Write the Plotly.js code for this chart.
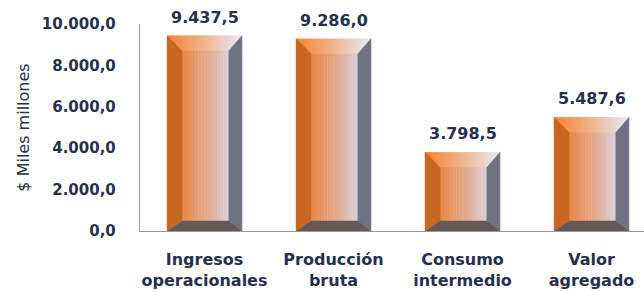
<!DOCTYPE html>
<html><head><meta charset="utf-8">
<script src="https://cdn.plot.ly/plotly-3.0.1.min.js"></script>
<style>html,body{margin:0;padding:0;background:#fff}</style>
</head><body><div id="chart" style="width:644px;height:292px"></div>
<script>
// ---- data ----
const categories = ["Ingresos<br>operacionales", "Producción<br>bruta", "Consumo<br>intermedio", "Valor<br>agregado"];
const values = [9437.5, 9286.0, 3798.5, 5487.6];
const valueLabels = ["9.437,5", "9.286,0", "3.798,5", "5.487,6"];
const yTickVals = [0, 2000, 4000, 6000, 8000, 10000];
const yTickText = ["0,0", "2.000,0", "4.000,0", "6.000,0", "8.000,0", "10.000,0"];

// ---- style constants ----
const HALF = 0.29, BL = 0.116, BR = 0.101, BT = 725, BB = 483;
const N = 24;
const TXT = "#27304f";
const FONT = "DejaVu Sans";

const xs = categories.map((_, i) => i);

function lerp(a, b, t) { return a.map((v, j) => Math.round(v + (b[j] - v) * t)); }
function grad(stops, t) {
  t = Math.max(0, Math.min(1, t));
  const n = stops.length - 1;
  const k = Math.min(n - 1, Math.floor(t * n));
  const c = lerp(stops[k], stops[k + 1], t * n - k);
  return "rgb(" + c.join(",") + ")";
}
const faceStops = [[232, 134, 70], [228, 168, 134], [216, 206, 220]];
const topStops = [[245, 130, 48], [240, 180, 140], [230, 236, 252]];

const traces = [];
const w = 2 * HALF / N;
for (let k = 0; k < N; k++) {
  const off = -HALF + k * w;
  const xc = off + w / 2;
  const tf = (xc - (-HALF + BL)) / ((HALF - BR) - (-HALF + BL));
  traces.push({
    type: "bar", x: xs, y: values, offset: off, width: w + 0.003,
    marker: {color: grad(faceStops, tf), line: {width: 0}},
    hoverinfo: "skip", showlegend: false
  });
}
for (let k = 0; k < N; k++) {
  const off = -HALF + k * w;
  const tt = (k + 0.5) / N;
  traces.push({
    type: "bar", x: xs, y: values.map(() => BT), base: values.map(v => v - BT),
    offset: off, width: w + 0.003,
    marker: {color: grad(topStops, tt), line: {width: 0}},
    hoverinfo: "skip", showlegend: false
  });
}

function poly(fn, color) {
  const px = [], py = [];
  values.forEach((v, i) => {
    fn(i, v).forEach(p => { px.push(p[0]); py.push(p[1]); });
    px.push(null); py.push(null);
  });
  return {type: "scatter", mode: "lines", x: px, y: py, fill: "toself",
    fillcolor: color, line: {color: color, width: 0.5},
    hoverinfo: "skip", showlegend: false};
}
// left bevel
traces.push(poly((i, v) => [[i - HALF, 0], [i - HALF, v], [i - HALF + BL, v - BT], [i - HALF + BL, BB]], "#c8671f"));
// right bevel
traces.push(poly((i, v) => [[i + HALF, 0], [i + HALF, v], [i + HALF - BR, v - BT], [i + HALF - BR, BB]], "#6f7381"));
// bottom bevel
traces.push(poly((i, v) => [[i - HALF, 0], [i + HALF, 0], [i + HALF - BR, BB], [i - HALF + BL, BB]], "#655958"));

const annotations = values.map((v, i) => ({
  x: i, y: v, text: valueLabels[i], showarrow: false, xanchor: "center", yanchor: "bottom",
  yshift: 7, font: {family: FONT, size: 16, color: TXT, weight: "bold"}
}));

const layout = {
  width: 644, height: 292,
  margin: {l: 140, r: 0, t: 24, b: 61},
  paper_bgcolor: "#fff", plot_bgcolor: "#fff",
  barmode: "overlay", showlegend: false, hovermode: false,
  xaxis: {
    range: [-0.5, 3.407], tickmode: "array", tickvals: xs, ticktext: categories,
    showline: true, linecolor: "#999999", linewidth: 1.2, showgrid: false, zeroline: false,
    ticks: "outside", ticklen: 14, tickcolor: "rgba(0,0,0,0)",
    tickfont: {family: FONT, size: 16, color: TXT, weight: "bold"}, fixedrange: true
  },
  yaxis: {
    range: [0, 10000], tickmode: "array", tickvals: yTickVals, ticktext: yTickText,
    showline: true, linecolor: "#999999", linewidth: 1.2, showgrid: false, zeroline: false,
    ticks: "outside", ticklen: 20, tickcolor: "rgba(0,0,0,0)",
    tickfont: {family: FONT, size: 15, color: TXT, weight: "bold"},
    title: {text: "$ Miles millones", font: {family: FONT, size: 16, color: "#2a3048"}, standoff: 8},
    fixedrange: true
  },
  annotations: annotations
};

Plotly.newPlot("chart", traces, layout, {displayModeBar: false, staticPlot: true});
</script>
</body></html>
